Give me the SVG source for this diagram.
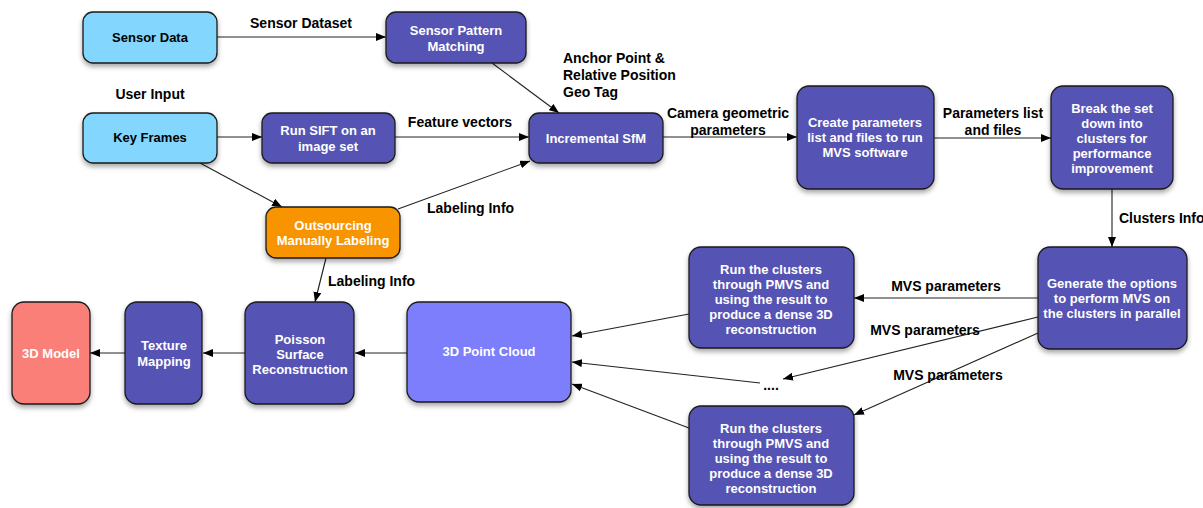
<svg xmlns="http://www.w3.org/2000/svg" width="1203" height="508" viewBox="0 0 1203 508">
<defs>
<filter id="sh" x="-20%" y="-20%" width="140%" height="150%">
<feDropShadow dx="0" dy="3" stdDeviation="2.5" flood-color="#000" flood-opacity="0.35"/>
</filter>
<marker id="ah" markerWidth="10" markerHeight="8" refX="10" refY="4" orient="auto" markerUnits="userSpaceOnUse">
<path d="M0,0 L10,4 L0,8 z" fill="#000"/>
</marker>
<style>
.box{stroke:#1a1a1a;stroke-width:1.3;filter:url(#sh)}
.lb{fill:#83D6FD}
.pu{fill:#5453B4}
.or{fill:#F89400}
.sa{fill:#F97F78}
.pc{fill:#7B7EFB}
.t{font-family:"Liberation Sans",Arial,sans-serif;font-size:13px;font-weight:bold;text-anchor:middle}
.w{fill:#fff}
.k{fill:#000}
.l{font-family:"Liberation Sans",Arial,sans-serif;font-size:14px;font-weight:bold;fill:#000}
.c{stroke:#222;stroke-width:1.1;fill:none;marker-end:url(#ah)}
</style>
</defs>
<rect width="1203" height="508" fill="#fff"/>

<g id="connectors">
<path class="c" d="M217,37 L386,37"/>
<path class="c" d="M217,137 L262,137"/>
<path class="c" d="M395,137 L529,137"/>
<path class="c" d="M492,63 L559,113"/>
<path class="c" d="M200,163 L282,207"/>
<path class="c" d="M398,209 L530,161"/>
<path class="c" d="M663,137 L797,137"/>
<path class="c" d="M934,138 L1051,138"/>
<path class="c" d="M1112,189 L1112,247"/>
<path class="c" d="M1038,298 L854,298"/>
<path class="c" d="M1038,317 L783,379"/>
<path class="c" d="M1038,333 L854,415"/>
<path class="c" d="M689,314 L572,336"/>
<path class="c" d="M760,383 L572,362"/>
<path class="c" d="M689,428 L572,384"/>
<path class="c" d="M407,353 L355,353"/>
<path class="c" d="M245,353 L203,353"/>
<path class="c" d="M125,353 L90,353"/>
<path class="c" d="M326,258 L315,302"/>
</g>

<g id="labels">
<text class="l" x="301" y="28" text-anchor="middle">Sensor Dataset</text>
<text class="l" x="150" y="99" text-anchor="middle">User Input</text>
<text class="l" x="563" y="63">Anchor Point &amp;</text>
<text class="l" x="563" y="80">Relative Position</text>
<text class="l" x="563" y="97">Geo Tag</text>
<text class="l" x="460" y="127" text-anchor="middle">Feature vectors</text>
<text class="l" x="728" y="118" text-anchor="middle">Camera geometric</text>
<text class="l" x="728" y="135" text-anchor="middle">parameters</text>
<text class="l" x="993" y="118" text-anchor="middle">Parameters list</text>
<text class="l" x="993" y="135" text-anchor="middle">and files</text>
<text class="l" x="1119" y="223">Clusters Info</text>
<text class="l" x="427" y="213">Labeling Info</text>
<text class="l" x="328" y="286">Labeling Info</text>
<text class="l" x="946" y="291" text-anchor="middle">MVS parameters</text>
<text class="l" x="925" y="335" text-anchor="middle">MVS parameters</text>
<text class="l" x="948" y="380" text-anchor="middle">MVS parameters</text>
<text class="l" x="771" y="390" text-anchor="middle">....</text>
</g>

<g id="sensor-data"><rect class="box lb" x="83" y="12" width="134" height="51" rx="10"/><text class="t k" x="150" y="42">Sensor Data</text></g>
<g id="key-frames"><rect class="box lb" x="83" y="113" width="134" height="50" rx="10"/><text class="t k" x="150" y="142">Key Frames</text></g>
<g id="run-sift"><rect class="box pu" x="262" y="113" width="133" height="50" rx="10"/><text class="t w" x="328" y="135">Run SIFT on an</text><text class="t w" x="328" y="151">image set</text></g>
<g id="sensor-pattern"><rect class="box pu" x="386" y="12" width="140" height="51" rx="10"/><text class="t w" x="456" y="35">Sensor Pattern</text><text class="t w" x="456" y="51">Matching</text></g>
<g id="incremental-sfm"><rect class="box pu" x="529" y="113" width="134" height="50" rx="10"/><text class="t w" x="596" y="143">Incremental SfM</text></g>
<g id="create-params"><rect class="box pu" x="797" y="86" width="137" height="103" rx="12"/><text class="t w" x="865" y="127">Create parameters</text><text class="t w" x="865" y="142">list and files to run</text><text class="t w" x="865" y="157">MVS software</text></g>
<g id="break-set"><rect class="box pu" x="1051" y="86" width="122" height="103" rx="12"/><text class="t w" x="1112" y="113">Break the set</text><text class="t w" x="1112" y="128">down into</text><text class="t w" x="1112" y="143">clusters for</text><text class="t w" x="1112" y="158">performance</text><text class="t w" x="1112" y="173">improvement</text></g>
<g id="generate-options"><rect class="box pu" x="1038" y="247" width="149" height="102" rx="12"/><text class="t w" x="1112" y="288">Generate the options</text><text class="t w" x="1112" y="303">to perform MVS on</text><text class="t w" x="1112" y="318">the clusters in parallel</text></g>
<g id="run-clusters-1"><rect class="box pu" x="689" y="247" width="165" height="101" rx="12"/><text class="t w" x="771" y="274">Run the clusters</text><text class="t w" x="771" y="289">through PMVS and</text><text class="t w" x="771" y="304">using the result to</text><text class="t w" x="771" y="319">produce a dense 3D</text><text class="t w" x="771" y="334">reconstruction</text></g>
<g id="run-clusters-2"><rect class="box pu" x="689" y="406" width="165" height="99" rx="12"/><text class="t w" x="771" y="433">Run the clusters</text><text class="t w" x="771" y="448">through PMVS and</text><text class="t w" x="771" y="463">using the result to</text><text class="t w" x="771" y="478">produce a dense 3D</text><text class="t w" x="771" y="493">reconstruction</text></g>
<g id="outsourcing"><rect class="box or" x="266" y="207" width="134" height="51" rx="10"/><text class="t w" x="333" y="230">Outsourcing</text><text class="t w" x="333" y="245">Manually Labeling</text></g>
<g id="point-cloud"><rect class="box pc" x="407" y="302" width="164" height="100" rx="12"/><text class="t w" x="489" y="356">3D Point Cloud</text></g>
<g id="poisson"><rect class="box pu" x="245" y="302" width="109" height="102" rx="12"/><text class="t w" x="300" y="344">Poisson</text><text class="t w" x="300" y="359">Surface</text><text class="t w" x="300" y="374">Reconstruction</text></g>
<g id="texture-mapping"><rect class="box pu" x="125" y="302" width="77" height="102" rx="12"/><text class="t w" x="164" y="350">Texture</text><text class="t w" x="164" y="366">Mapping</text></g>
<g id="model-3d"><rect class="box sa" x="12" y="302" width="78" height="102" rx="12"/><text class="t w" x="51" y="358">3D Model</text></g>
</svg>
